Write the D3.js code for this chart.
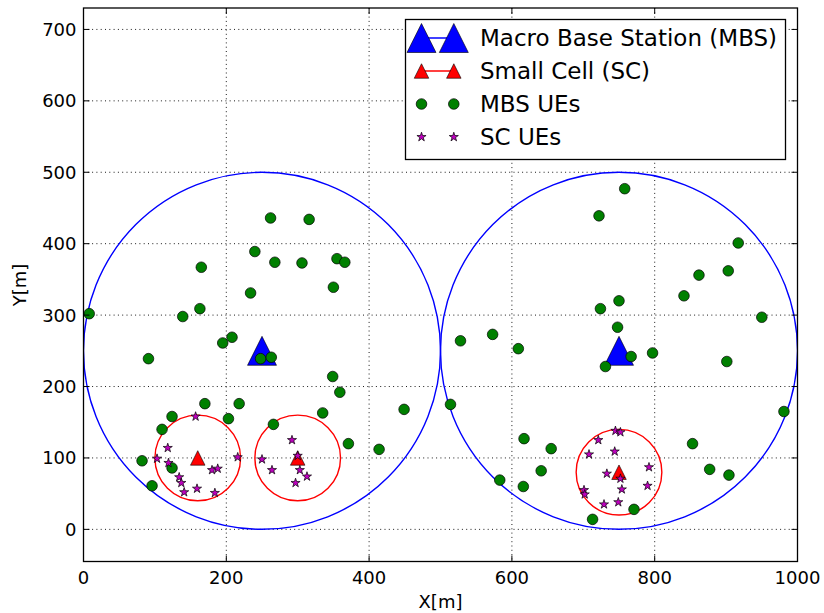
<!DOCTYPE html>
<html>
<head>
<meta charset="utf-8">
<script src="https://cdn.jsdelivr.net/npm/d3@7"></script>
<style>
  html, body { margin: 0; padding: 0; background: #fff; }
  svg { display: block; font-family: "DejaVu Sans", sans-serif; }
</style>
</head>
<body>
<svg id="chart" width="824" height="613"></svg>
<script>
// Base station positions (metres)
const mbsX = [250, 750];
const mbsY = [250, 250];
const scX = [160, 300, 750];
const scY = [100, 100, 80];
const mbsRadius = 250;
const scRadius = 60;

// Users served by the macro base stations
const mbsUeX = [262, 316, 165, 240, 268, 306, 355, 366, 234, 350, 8, 163, 139, 195, 208, 91, 248, 263, 349, 359, 170, 218, 449, 124, 203, 335, 110, 266, 371, 414, 82, 124, 96,
                758, 722, 917, 903, 862, 841, 750, 724, 950, 748, 528, 573, 609, 797, 767, 901, 731, 514, 981, 617, 655, 853, 641, 877, 904, 583, 616, 771, 713];
const mbsUeY = [436, 434, 367, 389, 374, 373, 379, 374, 331, 339, 302, 309, 298, 261, 269, 239, 239, 241, 214, 192, 176, 176, 168, 158, 155, 163, 140, 147, 120, 112, 96, 86, 61,
                477, 439, 401, 362, 356, 327, 320, 309, 297, 283, 264, 273, 253, 247, 242, 235, 228, 175, 165, 127, 113, 120, 82, 84, 76, 69, 60, 28, 14];

// Users served by the small cells
const scUeX = [157, 118, 103, 119, 134, 137, 141, 159, 184, 180, 188, 216,
               250, 264, 292, 300, 303, 313, 297,
               745, 752, 721, 708, 744, 792, 733, 752, 754, 790, 701, 702, 729, 749];
const scUeY = [158, 114, 99, 93, 73, 65, 52, 57, 51, 83, 85, 101,
               98, 83, 125, 103, 83, 74, 65,
               138, 136, 125, 105, 109, 87, 78, 71, 56, 61, 55, 49, 35, 38];

// Axis ticks
const xTicks = [0, 200, 400, 600, 800, 1000];
const yTicks = [0, 100, 200, 300, 400, 500, 600, 700];

const legendLabels = ["Macro Base Station (MBS)", "Small Cell (SC)", "MBS UEs", "SC UEs"];

const colors = { mbs: "#0000ff", sc: "#ff0000", mbsUe: "#008000", scUe: "#bf00bf" };

const plot = { left: 83.5, right: 797.5, top: 8, bottom: 561.5 };
const x = d3.scaleLinear().domain([0, 1000]).range([plot.left, plot.right]);
const y = d3.scaleLinear().domain([-45, 730]).range([plot.bottom, plot.top]);
const pxPerUnit = (plot.right - plot.left) / 1000;

const svg = d3.select("#chart");

svg.append("defs").append("clipPath").attr("id", "plotClip")
  .append("rect")
  .attr("x", plot.left).attr("y", plot.top)
  .attr("width", plot.right - plot.left).attr("height", plot.bottom - plot.top);

// Dotted grid
const grid = svg.append("g").attr("stroke", "#000").attr("stroke-width", 0.9)
  .attr("stroke-dasharray", "1,3.3").attr("fill", "none");
xTicks.forEach(t => grid.append("line")
  .attr("x1", x(t)).attr("x2", x(t)).attr("y1", plot.top).attr("y2", plot.bottom));
yTicks.forEach(t => grid.append("line")
  .attr("y1", y(t)).attr("y2", y(t)).attr("x1", plot.left).attr("x2", plot.right));

const area = svg.append("g").attr("clip-path", "url(#plotClip)");

// Coverage circles
area.selectAll("circle.mbsCov").data(mbsX).join("circle")
  .attr("cx", (d) => x(d)).attr("cy", (d, i) => y(mbsY[i]))
  .attr("r", mbsRadius * pxPerUnit)
  .attr("fill", "none").attr("stroke", colors.mbs).attr("stroke-width", 1.4);
area.selectAll("circle.scCov").data(scX).join("circle")
  .attr("cx", (d) => x(d)).attr("cy", (d, i) => y(scY[i]))
  .attr("r", scRadius * pxPerUnit)
  .attr("fill", "none").attr("stroke", colors.sc).attr("stroke-width", 1.4);

// Marker shapes
function triPath(size) {
  const h = size / 2;
  return `M0,${-h}L${h},${h}L${-h},${h}Z`;
}
function starPath(r) {
  const inner = r * 0.381966;
  let p = "";
  for (let k = 0; k < 10; k++) {
    const rad = k % 2 === 0 ? r : inner;
    const a = -Math.PI / 2 + k * Math.PI / 5;
    p += (k === 0 ? "M" : "L") + (rad * Math.cos(a)).toFixed(2) + "," + (rad * Math.sin(a)).toFixed(2);
  }
  return p + "Z";
}
const mbsTri = triPath(29);
const scTri = triPath(14.5);
const star = starPath(4.8);

area.selectAll("path.mbs").data(mbsX).join("path")
  .attr("d", mbsTri)
  .attr("transform", (d, i) => `translate(${x(d)},${y(mbsY[i])})`)
  .attr("fill", colors.mbs).attr("stroke", "#000").attr("stroke-width", 0.6);
area.selectAll("path.sc").data(scX).join("path")
  .attr("d", scTri)
  .attr("transform", (d, i) => `translate(${x(d)},${y(scY[i])})`)
  .attr("fill", colors.sc).attr("stroke", "#000").attr("stroke-width", 0.6);
area.selectAll("circle.mbsUe").data(mbsUeX).join("circle")
  .attr("cx", (d) => x(d)).attr("cy", (d, i) => y(mbsUeY[i]))
  .attr("r", 5.3)
  .attr("fill", colors.mbsUe).attr("stroke", "#000").attr("stroke-width", 0.7);
area.selectAll("path.scUe").data(scUeX).join("path")
  .attr("d", star)
  .attr("transform", (d, i) => `translate(${x(d)},${y(scUeY[i])})`)
  .attr("fill", colors.scUe).attr("stroke", "#000").attr("stroke-width", 0.7);

// Frame and inward ticks on all sides
const tickLen = 6;
const ticks = svg.append("g").attr("stroke", "#000").attr("stroke-width", 1);
xTicks.forEach(t => {
  ticks.append("line").attr("x1", x(t)).attr("x2", x(t)).attr("y1", plot.bottom).attr("y2", plot.bottom - tickLen);
  ticks.append("line").attr("x1", x(t)).attr("x2", x(t)).attr("y1", plot.top).attr("y2", plot.top + tickLen);
});
yTicks.forEach(t => {
  ticks.append("line").attr("y1", y(t)).attr("y2", y(t)).attr("x1", plot.left).attr("x2", plot.left + tickLen);
  ticks.append("line").attr("y1", y(t)).attr("y2", y(t)).attr("x1", plot.right).attr("x2", plot.right - tickLen);
});
svg.append("rect")
  .attr("x", plot.left).attr("y", plot.top)
  .attr("width", plot.right - plot.left).attr("height", plot.bottom - plot.top)
  .attr("fill", "none").attr("stroke", "#000").attr("stroke-width", 1.3);

// Tick labels
const tickFont = 18;
svg.append("g").selectAll("text").data(xTicks).join("text")
  .attr("x", (d) => x(d)).attr("y", 583.5)
  .attr("text-anchor", "middle").attr("font-size", tickFont).attr("fill", "#000")
  .text((d) => d);
svg.append("g").selectAll("text").data(yTicks).join("text")
  .attr("x", 76.5).attr("y", (d) => y(d)).attr("dy", "0.36em")
  .attr("text-anchor", "end").attr("font-size", tickFont).attr("fill", "#000")
  .text((d) => d);

// Axis titles
svg.append("text").attr("x", 440.5).attr("y", 608)
  .attr("text-anchor", "middle").attr("font-size", tickFont).text("X[m]");
svg.append("text").attr("transform", "translate(20,285) rotate(-90)")
  .attr("dy", "0.36em")
  .attr("text-anchor", "middle").attr("font-size", tickFont).text("Y[m]");

// Legend
const lg = svg.append("g");
lg.append("rect").attr("x", 405.5).attr("y", 19.5).attr("width", 380).attr("height", 140)
  .attr("fill", "#fff").attr("stroke", "#000").attr("stroke-width", 1.3);
const rowsY = [38, 71, 104, 137];
const m1 = 421.5, m2 = 453.8;
// MBS entry
lg.append("line").attr("x1", m1).attr("x2", m2).attr("y1", rowsY[0]).attr("y2", rowsY[0])
  .attr("stroke", colors.mbs).attr("stroke-width", 1.3);
[m1, m2].forEach(px => lg.append("path").attr("d", mbsTri)
  .attr("transform", `translate(${px},${rowsY[0]})`)
  .attr("fill", colors.mbs).attr("stroke", "#000").attr("stroke-width", 0.6));
// SC entry
lg.append("line").attr("x1", m1).attr("x2", m2).attr("y1", rowsY[1]).attr("y2", rowsY[1])
  .attr("stroke", colors.sc).attr("stroke-width", 1.3);
[m1, m2].forEach(px => lg.append("path").attr("d", scTri)
  .attr("transform", `translate(${px},${rowsY[1]})`)
  .attr("fill", colors.sc).attr("stroke", "#000").attr("stroke-width", 0.6));
// MBS UE entry
[m1, m2].forEach(px => lg.append("circle").attr("cx", px).attr("cy", rowsY[2]).attr("r", 5.3)
  .attr("fill", colors.mbsUe).attr("stroke", "#000").attr("stroke-width", 0.7));
// SC UE entry
[m1, m2].forEach(px => lg.append("path").attr("d", star)
  .attr("transform", `translate(${px},${rowsY[3]})`)
  .attr("fill", colors.scUe).attr("stroke", "#000").attr("stroke-width", 0.7));
lg.selectAll("text").data(legendLabels).join("text")
  .attr("x", 480).attr("y", (d, i) => rowsY[i]).attr("dy", "0.36em")
  .attr("font-size", 23).attr("fill", "#000")
  .text((d) => d);
</script>
</body>
</html>
